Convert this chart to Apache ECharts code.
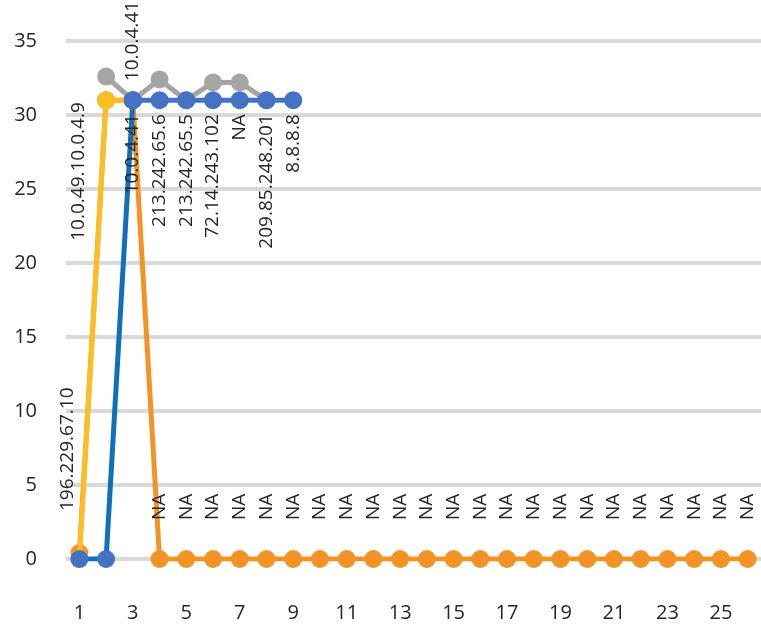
<!DOCTYPE html>
<html>
<head>
<meta charset="utf-8">
<script src="https://cdn.jsdelivr.net/npm/echarts@6/dist/echarts.min.js"></script>
<style>
html,body{margin:0;padding:0;background:#fff;}
#chart{width:761px;height:626px;}
</style>
</head>
<body>
<div id="chart"></div>
<script>
const categories = ['1','2','3','4','5','6','7','8','9','10','11','12','13','14','15','16','17','18','19','20','21','22','23','24','25','26'];
const yTicks = [0, 5, 10, 15, 20, 25, 30, 35];

const grayValues     = [null, 32.6, 31, 32.4, 31, 32.2, 32.2, 31];
const orangeValues   = [0.4, 31, 31, 0, 0, 0, 0, 0, 0, 0, 0, 0, 0, 0, 0, 0, 0, 0, 0, 0, 0, 0, 0, 0, 0, 0];
const yellowValues   = [0, 31, 31];
const blueLeadValues = [0, 0, 31];
const blueValues     = [null, null, 31, 31, 31, 31, 31, 31, 31];

const grayLabels   = ['', '', '10.0.4.41'];
const orangeLabels = ['196.229.67.10', '', '', 'NA', 'NA', 'NA', 'NA', 'NA', 'NA', 'NA', 'NA', 'NA', 'NA', 'NA', 'NA', 'NA', 'NA', 'NA', 'NA', 'NA', 'NA', 'NA', 'NA', 'NA', 'NA', 'NA'];
const yellowLabels = ['', '10.0.49.10.0.4.9'];
const blueLabels   = ['', '', '10.0.4.41', '213.242.65.6', '213.242.65.5', '72.14.243.102', 'NA', '209.85.248.201', '8.8.8.8'];

const baseLabel = {
  show: true, rotate: 90, fontSize: 19, fontFamily: 'Open Sans', color: '#262626', verticalAlign: 'middle'
};
const below = { position: 'bottom', distance: 5, align: 'right' };
const above = { position: 'top', distance: 30, align: 'left' };

function build(values, labels, styleFor) {
  return values.map(function (v, i) {
    const t = labels ? labels[i] : '';
    if (!t) return { value: v, label: { show: false } };
    return { value: v, label: Object.assign({}, baseLabel, styleFor(i), { formatter: t }) };
  });
}

function lineSeries(name, data, lineColor, markColor, z, symbolShown) {
  return {
    name: name, type: 'line', data: data, symbol: 'circle', symbolSize: 18,
    showAllSymbol: true,
    lineStyle: { color: lineColor, width: 5 },
    itemStyle: { color: markColor },
    labelLayout: { hideOverlap: false },
    z: z, animation: false, connectNulls: false
  };
}

const chart = echarts.init(document.getElementById('chart'), null, { renderer: 'canvas' });
chart.setOption({
  animation: false,
  grid: { left: 66, right: -8, top: 41, bottom: 67, containLabel: false },
  xAxis: {
    type: 'category', data: categories, boundaryGap: true,
    axisLine: { show: false }, axisTick: { show: false },
    axisLabel: { interval: 1, margin: 44, fontSize: 20, fontFamily: 'Open Sans', color: '#262626' },
    splitLine: { show: false }
  },
  yAxis: {
    type: 'value', min: yTicks[0], max: yTicks[yTicks.length - 1], interval: 5,
    axisLine: { show: false }, axisTick: { show: false },
    axisLabel: { margin: 29, fontSize: 20, fontFamily: 'Open Sans', color: '#262626' },
    splitLine: { lineStyle: { color: '#D9D9D9', width: 4 } }
  },
  series: [
    lineSeries('gray', build(grayValues, grayLabels, function () { return { position: 'top', distance: 10, align: 'left' }; }), '#A5A5A5', '#A5A5A5', 2),
    lineSeries('orange', build(orangeValues, orangeLabels, function (i) {
      return i === 0 ? { position: [-3, -33], align: 'left' } : above;
    }), '#F39325', '#F39325', 3),
    lineSeries('yellow', build(yellowValues, yellowLabels, function () {
      return { position: [-19, 11], align: 'right' };
    }), '#FDBE22', '#FDBE22', 4),
    lineSeries('blueLead', build(blueLeadValues, null, null), '#0E70BE', '#4472C4', 5),
    lineSeries('blue', build(blueValues, blueLabels, function () { return below; }), '#4472C4', '#4472C4', 6)
  ]
});
</script>
</body>
</html>
